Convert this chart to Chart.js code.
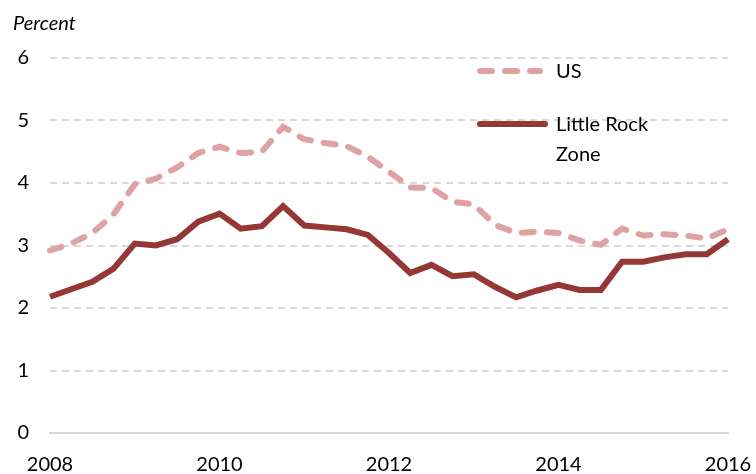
<!DOCTYPE html>
<html>
<head>
<meta charset="utf-8">
<script src="https://cdn.jsdelivr.net/npm/chart.js@4/dist/chart.umd.min.js"></script>
<style>
  body { margin: 0; background: #fff; }
  #wrap { position: relative; width: 756px; height: 474px; }
  #unit { position: absolute; left: 13px; top: 12px; font: italic 20px Lato, sans-serif; line-height: 20px; color: #000; }
</style>
</head>
<body>
<div id="wrap">
  <div id="unit">Percent</div>
  <canvas id="chart" width="756" height="474"></canvas>
</div>
<script>
// quarterly, 2008 Q1 .. 2016 Q1
var quarters = [
  '2008Q1','2008Q2','2008Q3','2008Q4',
  '2009Q1','2009Q2','2009Q3','2009Q4',
  '2010Q1','2010Q2','2010Q3','2010Q4',
  '2011Q1','2011Q2','2011Q3','2011Q4',
  '2012Q1','2012Q2','2012Q3','2012Q4',
  '2013Q1','2013Q2','2013Q3','2013Q4',
  '2014Q1','2014Q2','2014Q3','2014Q4',
  '2015Q1','2015Q2','2015Q3','2015Q4',
  '2016Q1'
];
var tickYears = ['2008', '2010', '2012', '2014', '2016'];
var yTicks = [0, 1, 2, 3, 4, 5, 6];

var usRate = [
  2.92, 3.03, 3.20, 3.50, 3.98, 4.07, 4.25, 4.48,
  4.58, 4.48, 4.50, 4.90, 4.70, 4.64, 4.59, 4.42,
  4.18, 3.93, 3.92, 3.70, 3.66, 3.33, 3.20, 3.22,
  3.20, 3.08, 3.01, 3.27, 3.16, 3.18, 3.16, 3.11,
  3.26
];
var littleRockRate = [
  2.18, 2.30, 2.42, 2.63, 3.03, 3.00, 3.10, 3.38,
  3.51, 3.27, 3.31, 3.63, 3.32, 3.29, 3.26, 3.17,
  2.88, 2.56, 2.69, 2.51, 2.54, 2.34, 2.17, 2.28,
  2.37, 2.29, 2.29, 2.74, 2.74, 2.81, 2.86, 2.86,
  3.10
];

var legendNames = [['US'], ['Little Rock', 'Zone']];

// legend drawn at the upper right, inside the plot
var sideLegend = {
  id: 'sideLegend',
  afterDraw: function(chart) {
    var ctx = chart.ctx;
    var rows = [71, 124];
    ctx.save();
    chart.data.datasets.forEach(function(ds, i) {
      var y = rows[i];
      ctx.beginPath();
      ctx.strokeStyle = ds.borderColor;
      ctx.lineWidth = ds.borderWidth;
      ctx.lineCap = 'round';
      ctx.setLineDash(ds.borderDash || []);
      ctx.moveTo(480, y);
      ctx.lineTo(i === 0 ? 540 : 545, y);
      ctx.stroke();
      ctx.setLineDash([]);
      ctx.fillStyle = '#000';
      ctx.font = '20px Lato, sans-serif';
      ctx.textBaseline = 'middle';
      legendNames[i].forEach(function(line, k) {
        ctx.fillText(line, 556, y + 1 + k * 30);
      });
    });
    ctx.restore();
  }
};

var ctx = document.getElementById('chart').getContext('2d');
var chart = new Chart(ctx, {
  type: 'line',
  data: {
    labels: quarters,
    datasets: [{
      label: 'US',
      data: usRate,
      borderColor: '#dfa2a4',
      borderWidth: 6,
      borderDash: [12, 13],
      borderCapStyle: 'round',
      pointRadius: 0,
      tension: 0,
      fill: false
    }, {
      label: 'Little Rock Zone',
      data: littleRockRate,
      borderColor: '#953735',
      borderWidth: 6,
      borderJoinStyle: 'miter',
      pointRadius: 0,
      tension: 0,
      fill: false
    }]
  },
  options: {
    responsive: false,
    animation: false,
    layout: { padding: { top: 58, right: 28, left: 0, bottom: 0 } },
    plugins: {
      legend: { display: false },
      tooltip: { enabled: false }
    },
    scales: {
      x: {
        afterFit: function(scale) {
          scale.height = 41;
          scale.paddingLeft = 0;
          scale.paddingRight = 0;
        },
        grid: { display: false, drawTicks: false },
        border: { display: true, color: '#d9d9d9', width: 2 },
        ticks: {
          autoSkip: false,
          maxRotation: 0,
          padding: 20,
          color: '#000',
          font: { family: 'Lato', size: 20 },
          callback: function(value, index) {
            var q = quarters[index];
            var yr = q.slice(0, 4);
            return (q.slice(4) === 'Q1' && tickYears.indexOf(yr) >= 0) ? yr : '';
          }
        }
      },
      y: {
        min: yTicks[0],
        max: yTicks[yTicks.length - 1],
        afterFit: function(scale) { scale.width = 50; },
        afterBuildTicks: function(scale) {
          scale.ticks = yTicks.map(function(v) { return { value: v }; });
        },
        grid: {
          drawTicks: false,
          lineWidth: 2,
          color: function(c) { return c.tick && c.tick.value === 0 ? 'rgba(0,0,0,0)' : '#d9d9d9'; }
        },
        border: { display: false, dash: [7, 5] },
        ticks: {
          padding: 21,
          color: '#000',
          font: { family: 'Lato', size: 20 }
        }
      }
    }
  },
  plugins: [sideLegend]
});
</script>
</body>
</html>
